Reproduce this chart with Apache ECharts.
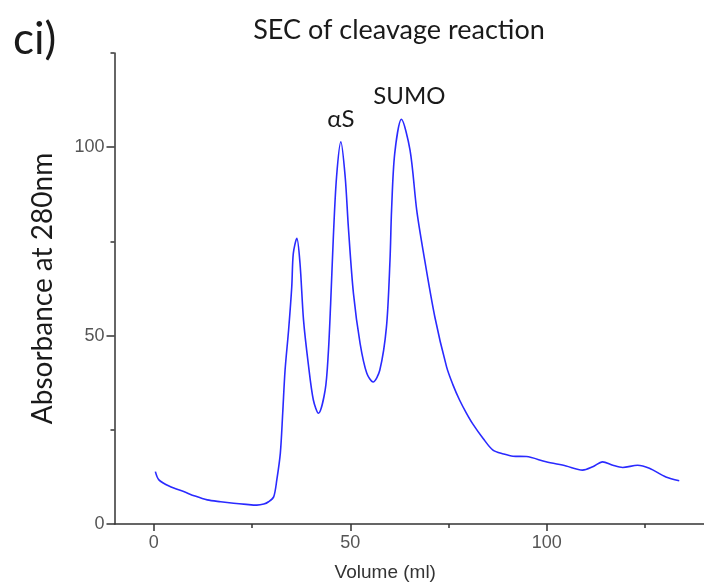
<!DOCTYPE html>
<html>
<head>
<meta charset="utf-8">
<script src="https://cdn.jsdelivr.net/npm/echarts@6/dist/echarts.min.js"></script>
<style>html,body{margin:0;padding:0;background:#fff;}#c{width:704px;height:587px;}</style>
</head>
<body>
<div id="c"></div>
<script>
// Data
const volume = [0.4, 1.3, 4.0, 7.6, 10.5, 13.6, 17.0, 20.3, 23.5, 26.2, 28.0, 29.2, 30.5, 31.3, 32.2, 32.8, 33.4, 34.3, 35.1, 35.5, 36.4, 37.2, 38.1, 39.3, 40.6, 41.9, 43.6, 44.4, 45.0, 45.7, 46.5, 47.6, 48.7, 49.5, 50.8, 52.5, 54.2, 55.8, 57.5, 59.2, 60.1, 60.5, 61.3, 63.0, 65.2, 66.9, 68.5, 71.5, 74.5, 76.1, 77.8, 79.5, 81.2, 83.8, 86.3, 89.0, 91.4, 94.8, 99.8, 104.9, 109.1, 111.7, 114.2, 116.8, 119.3, 123.1, 126.1, 130.3, 133.7];
const absorbance = [13.9, 11.7, 10.0, 8.6, 7.4, 6.4, 5.9, 5.5, 5.2, 5.0, 5.3, 5.9, 7.2, 11.7, 18.8, 29.4, 40.8, 51.5, 62.9, 71.8, 75.8, 69.2, 54.1, 42.6, 32.9, 29.4, 35.5, 45.3, 58.5, 76.5, 92.1, 101.4, 92.1, 78.9, 61.2, 47.9, 40.0, 37.7, 40.8, 52.3, 70.0, 83.3, 98.3, 107.4, 99.2, 83.3, 72.7, 55.0, 41.7, 37.0, 32.9, 29.5, 26.5, 22.7, 19.6, 18.6, 18.0, 17.9, 16.5, 15.4, 14.3, 15.2, 16.5, 15.6, 15.0, 15.6, 14.8, 12.5, 11.5];
const xMajorTicks = [0, 50, 100];
const xMinorTicks = [25, 75, 125];
const yMajorTicks = [0, 50, 100];
const yMinorTicks = [25, 75, 125];
const peakLabels = [
  {name: 'αS', x: 47.6, y: 101.4, dx: 0},
  {name: 'SUMO', x: 63.0, y: 107.4, dx: 8}
];

const points = volume.map((v, i) => [v, absorbance[i]]);
const axisColor = '#333';
const chart = echarts.init(document.getElementById('c'));
const xBase = {
  type: 'value', min: -10, max: 140, position: 'bottom',
  axisLine: {show: true, onZero: false, lineStyle: {color: axisColor, width: 1.5}},
  splitLine: {show: false}
};
const yBase = {
  type: 'value', min: 0, max: 125, position: 'left',
  axisLine: {show: true, onZero: false, lineStyle: {color: axisColor, width: 1.5}},
  splitLine: {show: false}
};
chart.setOption({
  animation: false,
  grid: {left: 114.5, right: 0, top: 53, bottom: 63},
  title: [
    {text: 'SEC of cleavage reaction', left: 394, top: 12, textAlign: 'center',
     textStyle: {fontFamily: 'Lato', fontSize: 27, fontWeight: 'normal', color: '#1a1a1a'}},
    {text: 'ci)', left: 8, top: 13,
     textStyle: {fontFamily: 'Lato', fontSize: 44, fontWeight: 'normal', color: '#1a1a1a'}}
  ],
  xAxis: [
    Object.assign({}, xBase, {
      name: 'Volume (ml)', nameLocation: 'middle', nameGap: 39,
      nameTextStyle: {fontFamily: 'Liberation Sans', fontSize: 19, color: '#333', padding: [0, 48, 0, 0]},
      axisTick: {show: true, customValues: xMajorTicks, length: 7, lineStyle: {color: axisColor, width: 1.5}},
      axisLabel: {show: true, customValues: xMajorTicks, fontFamily: 'Liberation Sans', fontSize: 18, color: '#555', margin: 10}
    }),
    Object.assign({}, xBase, {
      axisLine: {show: false, onZero: false},
      axisTick: {show: true, customValues: xMinorTicks, length: 4, lineStyle: {color: axisColor, width: 1.5}},
      axisLabel: {show: false}
    })
  ],
  yAxis: [
    Object.assign({}, yBase, {
      name: 'Absorbance at 280nm', nameLocation: 'middle', nameGap: 58, nameRotate: 90,
      nameTextStyle: {fontFamily: 'Lato', fontSize: 28, color: '#1a1a1a'},
      axisTick: {show: true, customValues: yMajorTicks, length: 8, lineStyle: {color: axisColor, width: 1.5}},
      axisLabel: {show: true, customValues: yMajorTicks, fontFamily: 'Liberation Sans', fontSize: 18, color: '#555', margin: 10}
    }),
    Object.assign({}, yBase, {
      axisLine: {show: false, onZero: false},
      axisTick: {show: true, customValues: yMinorTicks, length: 4, lineStyle: {color: axisColor, width: 1.5}},
      axisLabel: {show: false}
    })
  ],
  series: [{
    type: 'line', data: points, showSymbol: false, smooth: 0.3,
    xAxisIndex: 0, yAxisIndex: 0,
    lineStyle: {color: '#2a2aff', width: 1.6},
    markPoint: {
      symbol: 'circle', symbolSize: 0,
      data: peakLabels.map(p => ({name: p.name, coord: [p.x, p.y],
        label: {show: true, formatter: p.name, position: 'top', distance: 11, offset: [p.dx, 0],
          fontFamily: 'Lato', fontSize: 24, color: '#1a1a1a'}}))
    }
  }]
});
</script>
</body>
</html>
